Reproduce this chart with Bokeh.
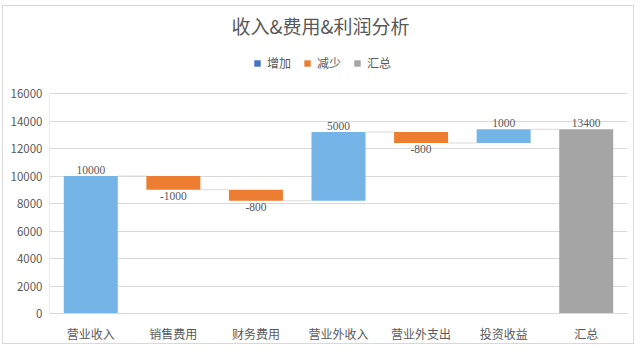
from bokeh.plotting import figure
from bokeh.models import (ColumnDataSource, Legend, LegendItem, LabelSet, Label,
                          FixedTicker, Range1d, FactorRange)
from bokeh.transform import dodge
from bokeh.embed import file_html
from bokeh.resources import INLINE

# ---- data ----
categories = ["营业收入", "销售费用", "财务费用", "营业外收入", "营业外支出", "投资收益", "汇总"]
changes = [10000, -1000, -800, 5000, -800, 1000, 13400]
kinds = ["增加", "减少", "减少", "增加", "减少", "增加", "汇总"]
y_ticks = [0, 2000, 4000, 6000, 8000, 10000, 12000, 14000, 16000]
title_text = "收入&费用&利润分析"

FONT = "Noto Sans CJK SC"
TXT = "#595959"
bar_colors = {"增加": "#74B4E7", "减少": "#ED7D31", "汇总": "#A5A5A5"}
legend_colors = {"增加": "#4472C4", "减少": "#ED7D31", "汇总": "#A5A5A5"}

# ---- layout (pixels) ----
W, H = 632, 339
ML, MR, MB = 46, 8, 32
FRAME_H = H - MB                # frame spans the full height above the x axis
PLOT_H = 220                    # pixels used by the 0..16000 value band
y_top = y_ticks[-1] * FRAME_H / PLOT_H   # extra head-room holds title and legend

# ---- waterfall geometry from the data ----
bottoms, tops, label_y, baselines, offs = [], [], [], [], []
running = 0
levels = []
for v, k in zip(changes, kinds):
    if k == "汇总":
        b, t = 0, v
        running = v
    else:
        start, end = running, running + v
        b, t = min(start, end), max(start, end)
        running = end
    bottoms.append(b)
    tops.append(t)
    levels.append(running)
    if v >= 0:
        label_y.append(t); baselines.append("bottom"); offs.append(2)
    else:
        label_y.append(b); baselines.append("top"); offs.append(-2)

src = ColumnDataSource(dict(cat=categories, bottom=bottoms, top=tops,
                            color=[bar_colors[k] for k in kinds],
                            ly=label_y, lbl=[str(v) for v in changes],
                            base=baselines, off=offs))

conn = ColumnDataSource(dict(c0=categories[:-1], c1=categories[1:], y=levels[:-1]))

p = figure(x_range=FactorRange(*categories), y_range=Range1d(0, y_top),
           width=W, height=H,
           min_border_left=ML, min_border_right=MR, min_border_bottom=MB, min_border_top=0,
           output_backend="svg", toolbar_location=None,
           styles={"margin-left": "2px", "margin-top": "5px", "border": "1px solid #d9d9d9"})

BW = 0.654
p.vbar(x="cat", bottom="bottom", top="top", width=BW, color="color", source=src, line_color=None)

p.segment(x0=dodge("c0", BW / 2, range=p.x_range), x1=dodge("c1", -BW / 2, range=p.x_range),
          y0="y", y1="y", line_color="#D9D9D9", line_width=1, source=conn)

# left value-axis line, only over the value band
p.segment(x0=dodge("c", -0.5, range=p.x_range), x1=dodge("c", -0.5, range=p.x_range),
          y0="y0", y1="y1", line_color="#D9D9D9", line_width=1,
          source=ColumnDataSource(dict(c=[categories[0]], y0=[y_ticks[0]], y1=[y_ticks[-1]])))

labels = LabelSet(x="cat", y="ly", text="lbl", source=src, text_align="center",
                  text_baseline="base", y_offset="off", text_font=FONT,
                  text_font_size="11.5px", text_color=TXT)
p.add_layout(labels)

# title, centred on the whole chart
n = len(categories)
title_x = n * (W / 2 + 1 - ML) / (W - ML - MR)
title_y = y_ticks[-1] * (FRAME_H - 19) / PLOT_H
p.add_layout(Label(x=title_x, y=title_y, text=title_text, text_align="center",
                   text_baseline="middle", text_font=FONT, text_font_size="19px",
                   text_color=TXT))

# legend (swatches only)
items = []
for k in ["增加", "减少", "汇总"]:
    r = p.vbar(x=[categories[0]], top=[float("nan")], width=0.5,
               color=legend_colors[k], line_color=None)
    items.append(LegendItem(label=k, renderers=[r]))
legend = Legend(items=items, orientation="horizontal", location=(204, FRAME_H - 65),
                glyph_width=8, glyph_height=8, label_standoff=6, spacing=12,
                label_text_font=FONT, label_text_font_size="12px", label_text_color=TXT,
                border_line_color=None, background_fill_alpha=0, padding=0, margin=0)
p.add_layout(legend)

# axes
p.yaxis.ticker = FixedTicker(ticks=y_ticks)
p.yaxis.axis_line_color = None
p.yaxis.major_tick_line_color = None
p.yaxis.minor_tick_line_color = None
p.yaxis.major_tick_out = 0
p.yaxis.major_tick_in = 0
p.yaxis.major_label_text_font = FONT
p.yaxis.major_label_text_font_size = "11.5px"
p.yaxis.major_label_text_color = TXT
p.yaxis.major_label_standoff = 7

p.xaxis.axis_line_color = "#D9D9D9"
p.xaxis.major_tick_line_color = None
p.xaxis.minor_tick_line_color = None
p.xaxis.major_tick_out = 0
p.xaxis.major_tick_in = 0
p.xaxis.major_label_text_font = FONT
p.xaxis.major_label_text_font_size = "12px"
p.xaxis.major_label_text_color = TXT
p.xaxis.major_label_standoff = 11

p.xgrid.grid_line_color = None
p.ygrid.grid_line_color = "#D9D9D9"
p.outline_line_color = None

open("out.html", "w").write(file_html(p, INLINE))
